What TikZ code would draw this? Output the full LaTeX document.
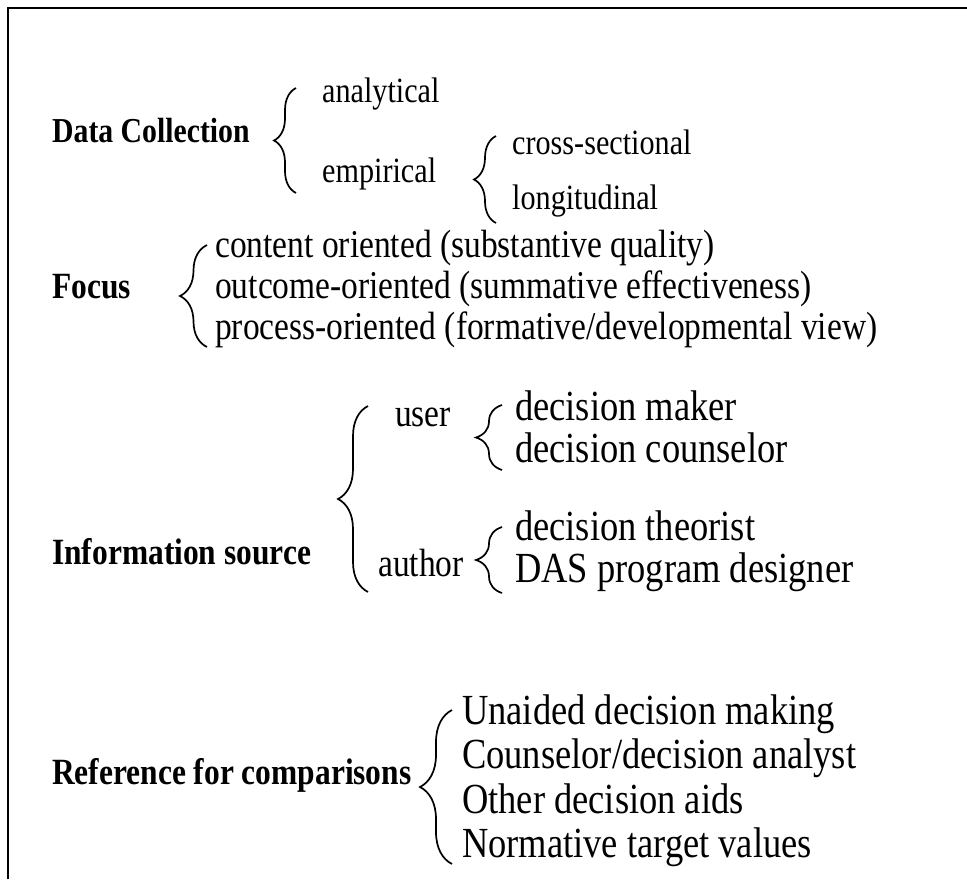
\documentclass[tikz,border=0pt]{standalone}
\usepackage{fontspec}
% narrow, tall Times-like face used throughout
\setmainfont{Liberation Serif}[FakeStretch=0.85]
\usetikzlibrary{decorations.pathreplacing}
\begin{document}
\begin{tikzpicture}[x=1pt,y=-1pt,
  every node/.style={inner sep=0pt, anchor=mid west},
  dchead/.style={font=\fontsize{35}{40}\selectfont\bfseries},
  item/.style={font=\fontsize{35.5}{40}\selectfont},
  head/.style={font=\fontsize{37}{42}\selectfont\bfseries},
  fitem/.style={font=\fontsize{39.4}{44}\selectfont},
  bitem/.style={font=\fontsize{42.9}{48}\selectfont},
  curly/.style={decorate, decoration={brace, amplitude=#1}, line width=1.7pt},
  curly/.default=22]
\useasboundingbox (0,0) rectangle (967,879);
% open frame: top and left rules only
\draw[line width=2.8pt] (8,879) -- (8,8) -- (967,8);

% --- Data Collection ---
\node[dchead] (dc) at (52,140) {Data Collection};
\node[item] (ana) at (322,100) {analytical};
\node[item] (emp) at (322,180) {empirical};
\node[item] (cross) at (512,152) {cross-sectional};
\node[item] (longi) at (512,207) {longitudinal};
\coordinate (dcT) at (296,88);  \coordinate (dcB) at (296,193);
\coordinate (empT) at (496,136); \coordinate (empB) at (496,223);
\draw[curly] (dcB) -- (dcT);
\draw[curly] (empB) -- (empT);

% --- Focus ---
\node[head] (foc) at (52,296) {Focus};
\node[fitem] (f1) at (215,255) {content oriented (substantive quality)};
\node[fitem] (f2) at (215,296) {outcome-oriented (summative effectiveness)};
\node[fitem] (f3) at (215,337) {process-oriented (formative/developmental view)};
\coordinate (focT) at (207,245); \coordinate (focB) at (207,347);
\draw[curly=27] (focB) -- (focT);

% --- Information source ---
\node[head] (inf) at (52,562) {Information source};
\node[fitem] (user) at (395,424) {user};
\node[fitem] (auth) at (378,574) {author};
\node[bitem] (u1) at (515,418) {decision maker};
\node[bitem] (u2) at (515,460) {decision counselor};
\node[bitem] (a1) at (515,538) {decision theorist};
\node[bitem] (a2) at (515,580) {DAS program designer};
\coordinate (infT) at (368,406); \coordinate (infB) at (368,592);
\coordinate (userT) at (502,405); \coordinate (userB) at (502,470);
\coordinate (authT) at (502,527); \coordinate (authB) at (502,593);
\draw[curly=30] (infB) -- (infT);
\draw[curly=26] (userB) -- (userT);
\draw[curly=26] (authB) -- (authT);

% --- Reference for comparisons ---
\node[head] (ref) at (52,782) {Reference for comparisons};
\node[bitem] (r1) at (462,722) {Unaided decision making};
\node[bitem] (r2) at (462,766) {Counselor/decision analyst};
\node[bitem] (r3) at (462,811) {Other decision aids};
\node[bitem] (r4) at (462,855) {Normative target values};
\coordinate (refT) at (452,710); \coordinate (refB) at (452,864);
\draw[curly=32] (refB) -- (refT);
\end{tikzpicture}
\end{document}
